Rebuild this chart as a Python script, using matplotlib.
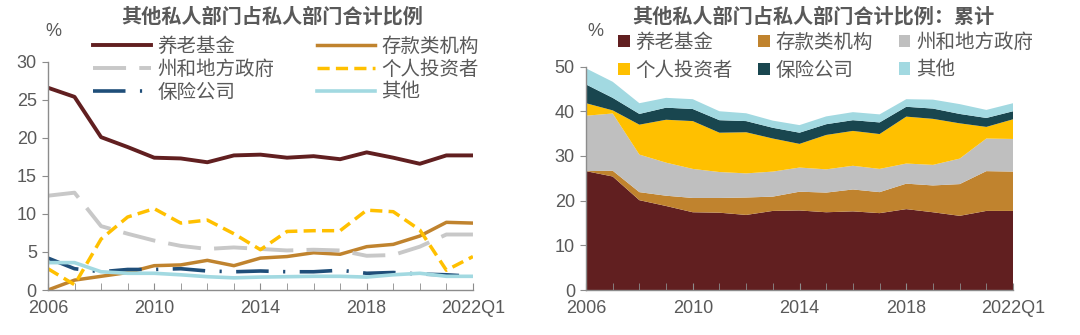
import matplotlib
matplotlib.use('Agg')
import matplotlib.pyplot as plt
import numpy as np

plt.rcParams['font.family'] = ['Liberation Sans', 'Noto Sans CJK SC', 'DejaVu Sans']

periods = ['2006', '2007', '2008', '2009', '2010', '2011', '2012', '2013', '2014',
           '2015', '2016', '2017', '2018', '2019', '2020', '2021', '2022Q1']
tick_labels = ['2006', '2010', '2014', '2018', '2022Q1']

pension = [26.6, 25.4, 20.1, 18.8, 17.4, 17.3, 16.8, 17.7, 17.8, 17.4, 17.6, 17.2, 18.1, 17.4, 16.6, 17.7, 17.7]
deposit = [0.0, 1.3, 1.8, 2.3, 3.2, 3.3, 3.9, 3.2, 4.2, 4.4, 4.9, 4.7, 5.7, 6.0, 7.1, 8.9, 8.8]
state_local = [12.4, 12.8, 8.4, 7.4, 6.5, 5.8, 5.4, 5.6, 5.4, 5.2, 5.3, 5.2, 4.5, 4.6, 5.7, 7.3, 7.3]
individual = [2.8, 0.7, 6.7, 9.6, 10.7, 8.8, 9.2, 7.4, 5.3, 7.7, 7.8, 7.8, 10.5, 10.3, 7.9, 2.6, 4.4]
insurance = [4.2, 2.8, 2.4, 2.7, 2.7, 2.8, 2.5, 2.4, 2.5, 2.4, 2.4, 2.6, 2.2, 2.3, 2.1, 2.0, 1.8]
other = [3.6, 3.6, 2.4, 2.2, 2.2, 2.0, 1.75, 1.6, 1.7, 1.75, 1.8, 1.8, 1.7, 2.0, 2.2, 1.8, 1.8]

names = ['养老基金', '存款类机构', '州和地方政府', '个人投资者', '保险公司', '其他']
area_colors = ['#611F20', '#C0832E', '#BFBFBF', '#FFC000', '#19464F', '#A2D9E1']

x = np.arange(len(periods))
tick_pos = [periods.index(t) for t in tick_labels]
grey = '#595959'

fig = plt.figure(figsize=(10.8, 3.35), dpi=100)

def style_axes(ax, ymax, ystep):
    for s in ['top', 'right']:
        ax.spines[s].set_visible(False)
    for s in ['left', 'bottom']:
        ax.spines[s].set_color('#8C8C8C')
        ax.spines[s].set_linewidth(1.0)
    ax.set_xlim(0, len(periods) - 1)
    ax.set_ylim(0, ymax)
    ax.set_yticks(np.arange(0, ymax + 1, ystep))
    ax.set_xticks(tick_pos)
    ax.set_xticklabels(tick_labels)
    ax.set_xticks(x, minor=True)
    ax.tick_params(axis='both', which='both', colors='#8C8C8C', labelcolor=grey, labelsize=13)
    ax.tick_params(axis='x', which='both', direction='in', length=5, pad=7)
    ax.tick_params(axis='y', direction='out', length=4, pad=4)

# left: lines
ax1 = fig.add_axes([0.0444, 0.1343, 0.3935, 0.681])
ax1.plot(x, pension, color='#611F20', lw=2.8, label=names[0])
ax1.plot(x, deposit, color='#C0832E', lw=2.5, label=names[1])
ax1.plot(x, state_local, color='#C8C8C8', lw=2.8, dashes=(8.5, 3.4), label=names[2])
ax1.plot(x, individual, color='#FFC000', lw=2.5, dashes=(3.5, 1.8), label=names[3])
ax1.plot(x, insurance, color='#1F4E79', lw=2.6, dashes=(9, 4, 0.6, 4), label=names[4])
ax1.plot(x, other, color='#A2D9E1', lw=2.6, label=names[5])
style_axes(ax1, 30, 5)
h, l = ax1.get_legend_handles_labels()
order = [0, 2, 4, 1, 3, 5]
ax1.legend([h[i] for i in order], [l[i] for i in order], ncol=2, loc='upper left',
           bbox_to_anchor=(93 / 1080, 1 - 37 / 335), bbox_transform=fig.transFigure,
           borderpad=0, borderaxespad=0, frameon=False,
           fontsize=14, handlelength=3.0, columnspacing=2.2, labelspacing=0.25,
           handletextpad=0.3, labelcolor=grey)
fig.text(45 / 1080, 1 - 32 / 335, '%', fontsize=13, color=grey, ha='left', va='center')
fig.text(0.252, 1 - 17 / 335, '其他私人部门占私人部门合计比例', ha='center', va='center',
         fontsize=14.5, fontweight='bold', color=grey)

# right: stacked areas
ax2 = fig.add_axes([0.5426, 0.1343, 0.3954, 0.667])
ax2.stackplot(x, pension, deposit, state_local, individual, insurance, other,
              colors=area_colors, labels=names, lw=0)
style_axes(ax2, 50, 10)
h, l = ax2.get_legend_handles_labels()
order = [0, 3, 1, 4, 2, 5]
ax2.legend([h[i] for i in order], [l[i] for i in order], ncol=3, loc='upper left',
           bbox_to_anchor=(618 / 1080, 1 - 33 / 335), bbox_transform=fig.transFigure,
           borderpad=0, borderaxespad=0, frameon=False,
           fontsize=14, handlelength=0.6, handleheight=0.6, columnspacing=1.3,
           labelspacing=0.5, handletextpad=0.3, labelcolor=grey)
fig.text(587 / 1080, 1 - 32 / 335, '%', fontsize=13, color=grey, ha='left', va='center')
fig.text(0.753, 1 - 17 / 335, '其他私人部门占私人部门合计比例：累计', ha='center', va='center',
         fontsize=14.5, fontweight='bold', color=grey)

fig.savefig('out.png', dpi=100)
